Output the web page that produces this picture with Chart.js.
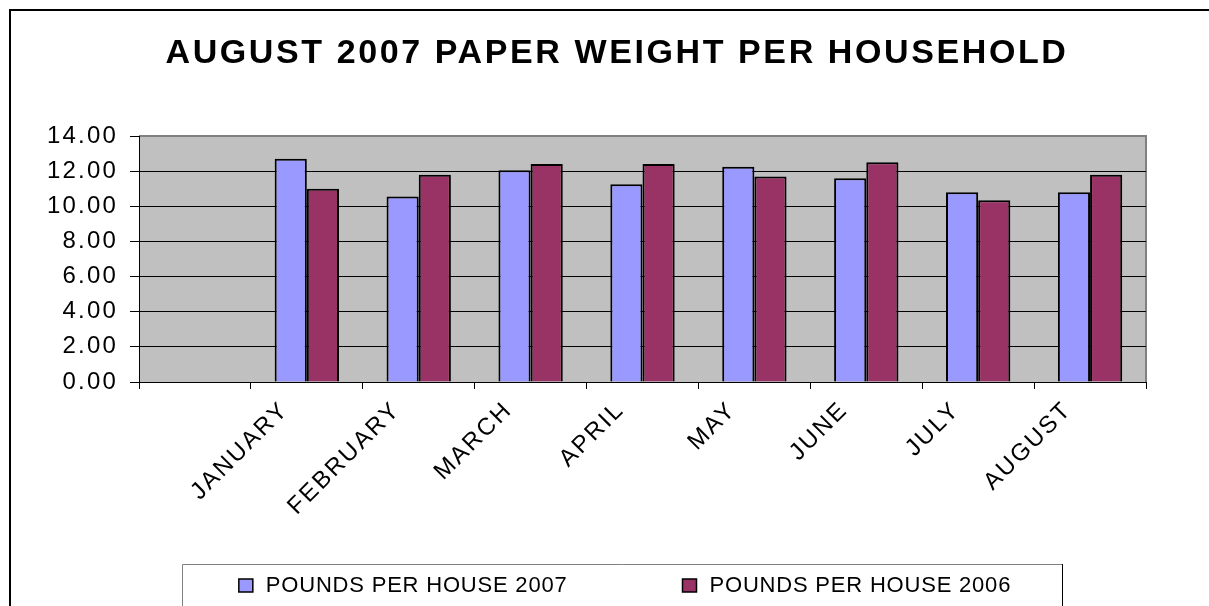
<!DOCTYPE html>
<html>
<head>
<meta charset="utf-8">
<title>August 2007 Paper Weight per Household</title>
<script src="https://cdn.jsdelivr.net/npm/chart.js@4.4.1/dist/chart.umd.min.js"></script>
<style>
  html, body { margin: 0; padding: 0; background: #fff; }
  #wrap { width: 1209px; height: 606px; position: relative; }
</style>
</head>
<body>
<div id="wrap"><canvas id="chart"></canvas></div>
<script>
// Datos
const chartTitle = "AUGUST 2007 PAPER WEIGHT PER HOUSEHOLD";
const categories = ["", "JANUARY", "FEBRUARY", "MARCH", "APRIL", "MAY", "JUNE", "JULY", "AUGUST"];
const pounds2007 = [null, 12.70, 10.55, 12.05, 11.25, 12.25, 11.60, 10.80, 10.80];
const pounds2006 = [null, 11.00, 11.80, 12.40, 12.40, 11.70, 12.50, 10.35, 11.80];
const yTicks = [0, 2, 4, 6, 8, 10, 12, 14];
const seriesNames = ["POUNDS PER HOUSE 2007", "POUNDS PER HOUSE 2006"];
const seriesColors = ["#9999ff", "#993366"];

const FONT = '"Liberation Sans", Arial, sans-serif';

// Fondo gris del área de trazado
const plotBackground = {
    id: "plotBackground",
    beforeDraw(chart) {
        const { ctx, chartArea: a } = chart;
        ctx.save();
        ctx.fillStyle = "#c0c0c0";
        ctx.fillRect(a.left, a.top, a.width, a.height);
        ctx.strokeStyle = "#808080";
        ctx.lineWidth = 2;
        ctx.beginPath();
        ctx.moveTo(a.left, a.top);
        ctx.lineTo(a.right, a.top);
        ctx.lineTo(a.right, a.bottom);
        ctx.stroke();
        ctx.restore();
        ctx.letterSpacing = "2.2px"; // texto de los ejes algo espaciado
    }
};

// Marco, título y leyenda al estilo Excel
const frameAndLegend = {
    id: "frameAndLegend",
    afterDraw(chart) {
        const { ctx, width, height } = chart;
        ctx.save();

        // marco exterior
        ctx.strokeStyle = "#000";
        ctx.lineWidth = 2;
        ctx.beginPath();
        ctx.moveTo(10, height);
        ctx.lineTo(10, 10);
        ctx.lineTo(width, 10);
        ctx.stroke();

        // título
        ctx.letterSpacing = "2.6px";
        ctx.fillStyle = "#000";
        ctx.font = "bold 34px " + FONT;
        ctx.textAlign = "center";
        ctx.textBaseline = "alphabetic";
        ctx.fillText(chartTitle, 617, 63);

        // leyenda
        const boxLeft = 182, boxTop = 564, boxRight = 1062;
        ctx.lineWidth = 1;
        ctx.strokeStyle = "#808080";
        ctx.beginPath();
        ctx.moveTo(boxLeft + 0.5, height);
        ctx.lineTo(boxLeft + 0.5, boxTop + 0.5);
        ctx.lineTo(boxRight, boxTop + 0.5);
        ctx.stroke();
        ctx.strokeStyle = "#000";
        ctx.beginPath();
        ctx.moveTo(boxRight + 0.5, boxTop);
        ctx.lineTo(boxRight + 0.5, height);
        ctx.stroke();

        ctx.letterSpacing = "0.8px";
        ctx.font = "22px " + FONT;
        ctx.textAlign = "left";
        ctx.textBaseline = "middle";
        const gap = 115;
        const widths = chart.data.datasets.map(ds => 27 + ctx.measureText(ds.label).width);
        const total = widths.reduce((s, w) => s + w, 0) + gap * (widths.length - 1);
        let x = 625 - total / 2;
        chart.data.datasets.forEach((ds, i) => {
            ctx.fillStyle = ds.backgroundColor;
            ctx.fillRect(x, 579, 14, 13);
            ctx.strokeStyle = "#000";
            ctx.lineWidth = 1.5;
            ctx.strokeRect(x, 579, 14, 13);
            ctx.fillStyle = "#000";
            ctx.fillText(ds.label, x + 27, 586);
            x += widths[i] + gap;
        });

        ctx.restore();
    }
};

function makeChart() {
    const ctx = document.getElementById("chart").getContext("2d");
    return new Chart(ctx, {
        type: "bar",
        data: {
            labels: categories,
            datasets: [
                { label: seriesNames[0], data: pounds2007, backgroundColor: seriesColors[0] },
                { label: seriesNames[1], data: pounds2006, backgroundColor: seriesColors[1] }
            ]
        },
        options: {
            responsive: true,
            maintainAspectRatio: false,
            animation: false,
            layout: { padding: { top: 136, right: 63, bottom: 0, left: 0 } },
            datasets: {
                bar: {
                    borderColor: "#000",
                    borderWidth: 2,
                    categoryPercentage: 0.575,
                    barPercentage: 1
                }
            },
            plugins: {
                legend: { display: false },
                title: { display: false },
                tooltip: { enabled: false }
            },
            scales: {
                x: {
                    afterFit: s => { s.height = 224; },
                    grid: {
                        offset: true,
                        drawOnChartArea: false,
                        tickLength: 7,
                        color: "#000",
                        tickColor: "#000"
                    },
                    border: { display: true, color: "#000", width: 1 },
                    ticks: {
                        autoSkip: false,
                        minRotation: 45,
                        maxRotation: 45,
                        labelOffset: -22,
                        padding: 7,
                        color: "#000",
                        font: { family: FONT, size: 24 }
                    }
                },
                y: {
                    min: 0,
                    max: 14,
                    afterFit: s => { s.width = 139; },
                    afterBuildTicks: s => { s.ticks = yTicks.map(v => ({ value: v })); },
                    grid: {
                        color: c => (c.tick && c.tick.value === 14 ? "#808080" : "#000"),
                        tickColor: "#000",
                        tickLength: 9,
                        lineWidth: 1
                    },
                    border: { display: true, color: "#000", width: 1 },
                    ticks: {
                        padding: 12,
                        color: "#000",
                        font: { family: FONT, size: 24 },
                        callback: v => Number(v).toFixed(2)
                    }
                }
            }
        },
        plugins: [plotBackground, frameAndLegend]
    });
}

window.onload = () => {
    makeChart();
};
</script>
</body>
</html>
